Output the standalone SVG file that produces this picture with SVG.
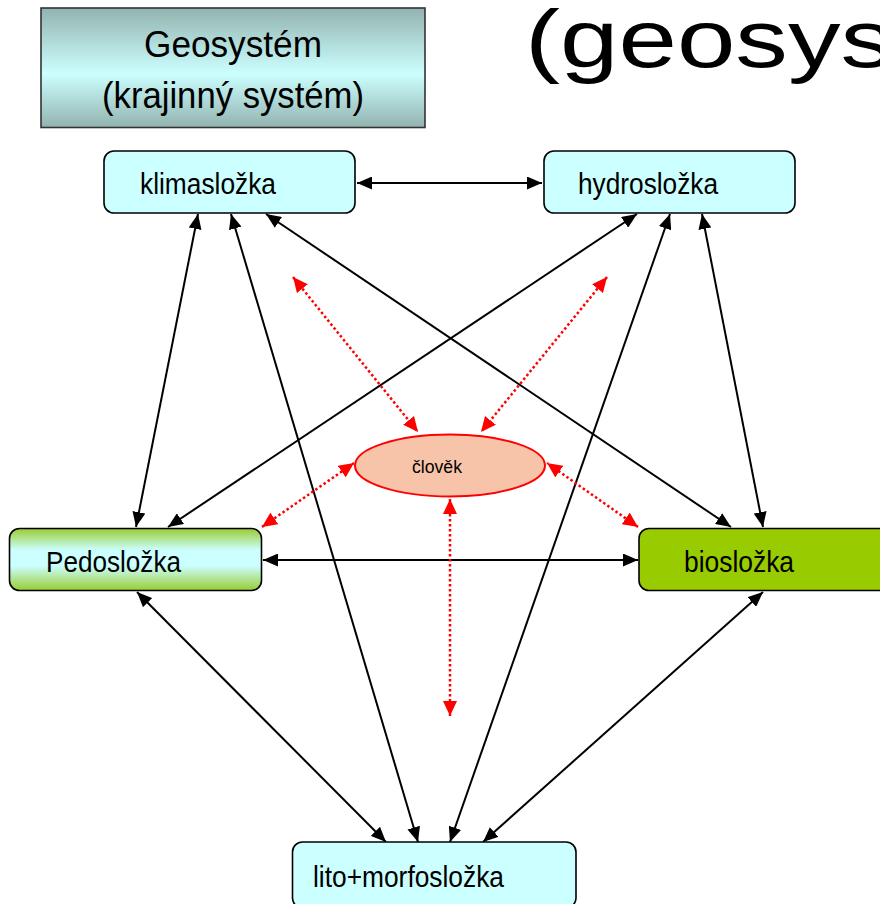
<svg xmlns="http://www.w3.org/2000/svg" width="880" height="904" viewBox="0 0 880 904">
<style>
  text { font-family: "Liberation Sans", Arial, sans-serif; fill: #000; }
  .box { stroke: #000; stroke-width: 1.6; }
  .lbl { font-size: 30px; }
  .blk { stroke: #000; stroke-width: 2; fill: none; marker-start: url(#ab); marker-end: url(#ab); }
  .red { stroke: #FF0000; stroke-width: 2.5; stroke-dasharray: 2.5 2.5; fill: none; marker-start: url(#ar); marker-end: url(#ar); }
</style>
<defs>
  <linearGradient id="gGeo" x1="0" y1="0" x2="0" y2="1">
    <stop offset="0" stop-color="#92B3AF"/>
    <stop offset="0.55" stop-color="#CCFFFF"/>
    <stop offset="1" stop-color="#92B3AF"/>
  </linearGradient>
  <linearGradient id="gPedo" x1="0" y1="0" x2="0" y2="1">
    <stop offset="0" stop-color="#99CC33"/>
    <stop offset="0.35" stop-color="#CCFFFF"/>
    <stop offset="0.6" stop-color="#CCFFFF"/>
    <stop offset="1" stop-color="#99CC33"/>
  </linearGradient>
  <marker id="ab" viewBox="0 0 15 13" refX="15" refY="6.5" markerWidth="15" markerHeight="13" markerUnits="userSpaceOnUse" orient="auto-start-reverse">
    <path d="M0,0 L15,6.5 L0,13 z" fill="#000"/>
  </marker>
  <marker id="ar" viewBox="0 0 15 14" refX="15" refY="7" markerWidth="15" markerHeight="14" markerUnits="userSpaceOnUse" orient="auto-start-reverse">
    <path d="M0,0 L15,7 L0,14 z" fill="#FF0000"/>
  </marker>
  <clipPath id="clipTitle"><rect x="0" y="0" width="880" height="88"/></clipPath>
</defs>

<g id="title" clip-path="url(#clipTitle)">
  <text x="525" y="67" font-size="82" textLength="368" lengthAdjust="spacingAndGlyphs">(geosys</text>
</g>

<g id="geosystem">
  <rect x="41" y="8" width="384" height="119.5" fill="url(#gGeo)" stroke="#333" stroke-width="1.6"/>
  <text x="233" y="57" font-size="36" text-anchor="middle" textLength="178" lengthAdjust="spacingAndGlyphs">Geosystém</text>
  <text x="233" y="108" font-size="36" text-anchor="middle" textLength="262" lengthAdjust="spacingAndGlyphs">(krajinný systém)</text>
</g>

<g id="connectors">
  <line class="blk" x1="357" y1="183" x2="542" y2="183"/>
  <line class="blk" x1="198" y1="214" x2="136" y2="527"/>
  <line class="blk" x1="231" y1="214" x2="418" y2="842"/>
  <line class="blk" x1="266" y1="214" x2="731" y2="527"/>
  <line class="blk" x1="637" y1="214" x2="168" y2="527"/>
  <line class="blk" x1="670" y1="214" x2="450" y2="842"/>
  <line class="blk" x1="702" y1="214" x2="763" y2="527"/>
  <line class="blk" x1="263" y1="560" x2="638" y2="560"/>
  <line class="blk" x1="137" y1="592" x2="386" y2="842"/>
  <line class="blk" x1="763" y1="592" x2="483" y2="842"/>
  <line class="red" x1="293" y1="277" x2="418" y2="432"/>
  <line class="red" x1="607" y1="277" x2="481" y2="432"/>
  <line class="red" x1="262" y1="527" x2="354" y2="463"/>
  <line class="red" x1="638" y1="527" x2="547" y2="463"/>
  <line class="red" x1="450" y1="499" x2="450" y2="716"/>
</g>

<g id="klimaslozka">
  <rect class="box" x="104" y="151" width="251" height="62" rx="10" fill="#CCFFFF"/>
  <text class="lbl" x="140" y="194" textLength="136" lengthAdjust="spacingAndGlyphs">klimasložka</text>
</g>

<g id="hydroslozka">
  <rect class="box" x="544" y="151" width="251" height="62" rx="10" fill="#CCFFFF"/>
  <text class="lbl" x="578" y="194" textLength="140" lengthAdjust="spacingAndGlyphs">hydrosložka</text>
</g>

<g id="pedoslozka">
  <rect class="box" x="9.5" y="528.5" width="252" height="62" rx="10" fill="url(#gPedo)"/>
  <text class="lbl" x="46" y="572" textLength="135" lengthAdjust="spacingAndGlyphs">Pedosložka</text>
</g>

<g id="bioslozka">
  <rect class="box" x="639" y="528.5" width="260" height="62" rx="10" fill="#99CC00"/>
  <text class="lbl" x="684" y="571.5" textLength="110" lengthAdjust="spacingAndGlyphs">biosložka</text>
</g>

<g id="litomorfoslozka">
  <rect class="box" x="292.5" y="842" width="283.5" height="66" rx="10" fill="#CCFFFF"/>
  <text class="lbl" x="313" y="887" textLength="191" lengthAdjust="spacingAndGlyphs">lito+morfosložka</text>
</g>

<g id="clovek">
  <ellipse cx="450" cy="465.5" rx="95" ry="31" fill="#F8C4A9" stroke="#FF0000" stroke-width="2"/>
  <text x="412" y="473" font-size="18" textLength="50" lengthAdjust="spacingAndGlyphs">člověk</text>
</g>
</svg>
